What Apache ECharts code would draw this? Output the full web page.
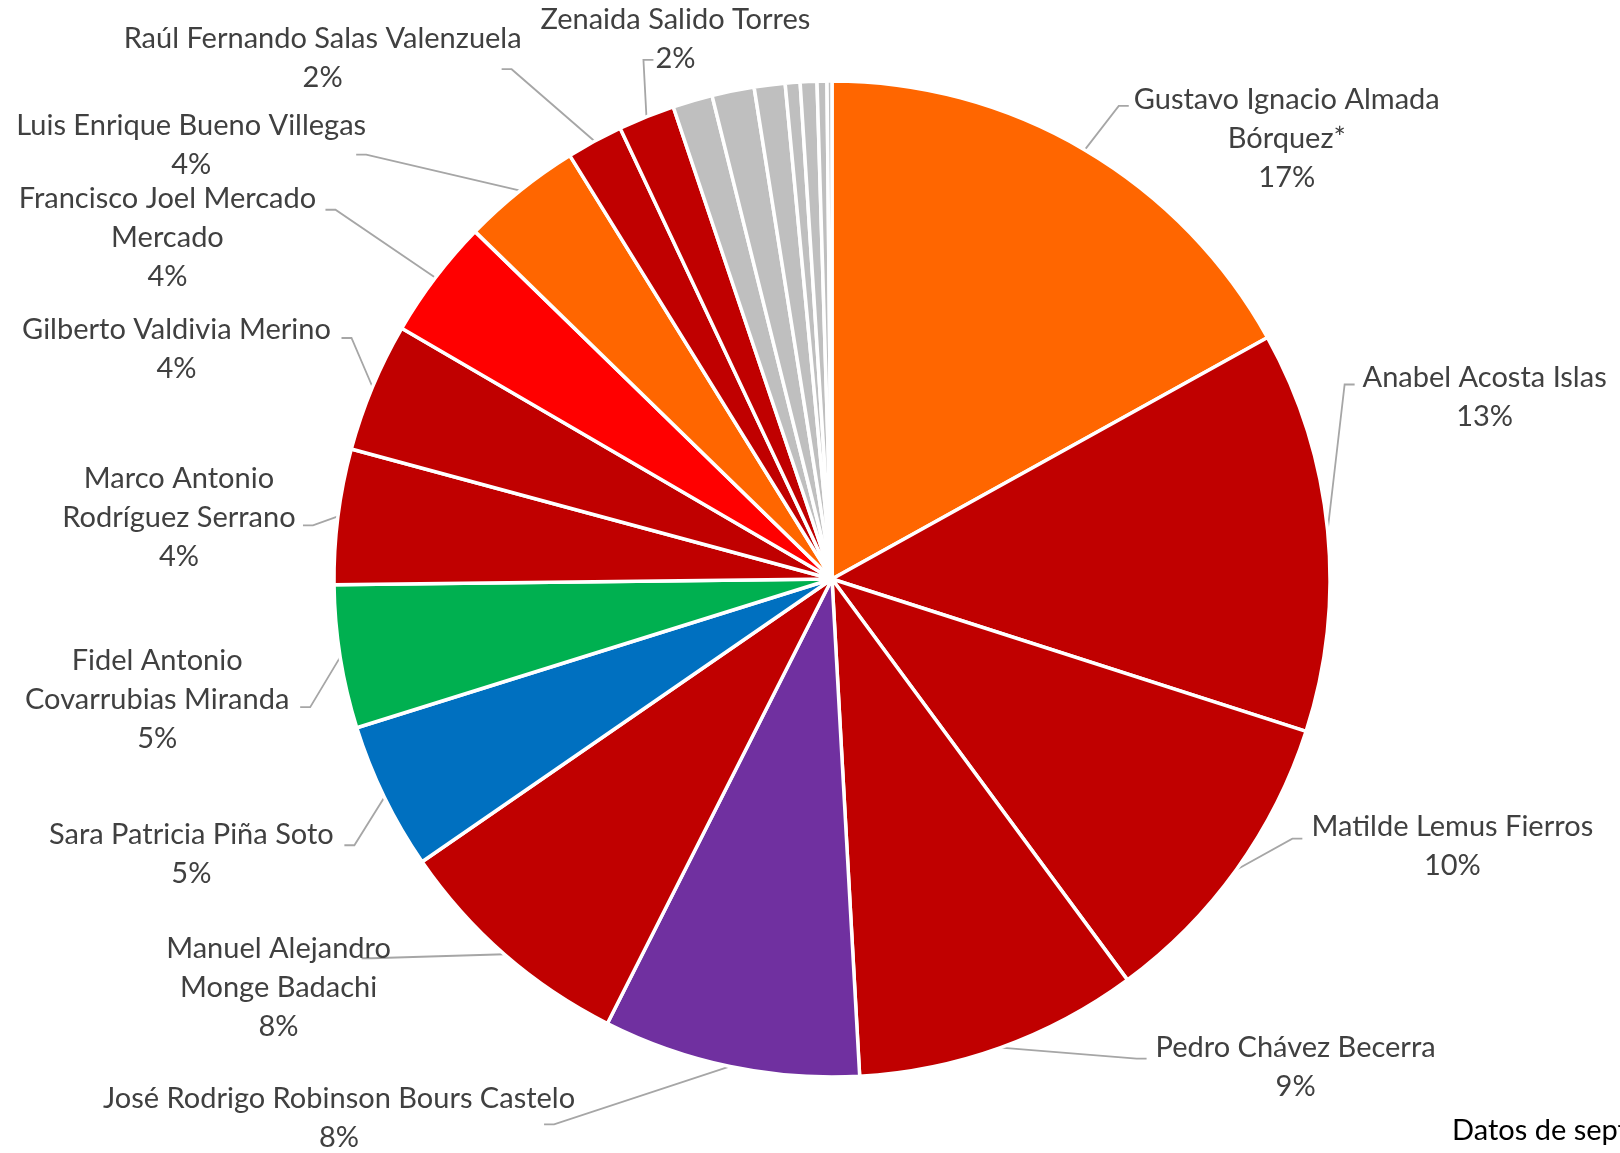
<!DOCTYPE html>
<html>
<head>
<meta charset="utf-8">
<script src="https://cdn.jsdelivr.net/npm/echarts@6/dist/echarts.min.js"></script>
<style>
html,body{margin:0;padding:0;background:#ffffff;}
#chart{width:1620px;height:1153px;}
</style>
</head>
<body>
<div id="chart"></div>
<script>
// ---- data (share of votes, %) ----
const categories = [
  'Gustavo Ignacio Almada Bórquez*',
  'Anabel Acosta Islas',
  'Matilde Lemus Fierros',
  'Pedro Chávez Becerra',
  'José Rodrigo Robinson Bours Castelo',
  'Manuel Alejandro Monge Badachi',
  'Sara Patricia Piña Soto',
  'Fidel Antonio Covarrubias Miranda',
  'Marco Antonio Rodríguez Serrano',
  'Gilberto Valdivia Merino',
  'Francisco Joel Mercado Mercado',
  'Luis Enrique Bueno Villegas',
  'Raúl Fernando Salas Valenzuela',
  'Zenaida Salido Torres',
  'Otro 1', 'Otro 2', 'Otro 3', 'Otro 4', 'Otro 5', 'Otro 6', 'Otro 7'
];
const values = [
  16.94, 13.00, 9.94, 9.22, 8.33, 7.94, 4.78, 4.64, 4.39, 4.19,
  3.89, 3.89, 1.83, 1.83,
  1.29, 1.37, 1.00, 0.48, 0.54, 0.32, 0.16
];
// label text as wrapped in the picture (null = no label)
const labelNames = [
  'Gustavo Ignacio Almada\nBórquez*',
  'Anabel Acosta Islas',
  'Matilde Lemus Fierros',
  'Pedro Chávez Becerra',
  'José Rodrigo Robinson Bours Castelo',
  'Manuel Alejandro\nMonge Badachi',
  'Sara Patricia Piña Soto',
  'Fidel Antonio\nCovarrubias Miranda',
  'Marco Antonio\nRodríguez Serrano',
  'Gilberto Valdivia Merino',
  'Francisco Joel Mercado\nMercado',
  'Luis Enrique Bueno Villegas',
  'Raúl Fernando Salas Valenzuela',
  'Zenaida Salido Torres',
  null, null, null, null, null, null, null
];
const footnote = 'Datos de septiembre';

// ---- styles ----
const ORANGE = '#FF6600', DRED = '#C00000', RED = '#FF0000', GREEN = '#00B050',
      BLUE = '#0070C0', PURPLE = '#7030A0', GREY = '#BFBFBF';
const sliceColors = [
  ORANGE, DRED, DRED, DRED, PURPLE, DRED, BLUE, GREEN, DRED, DRED,
  RED, ORANGE, DRED, DRED,
  GREY, GREY, GREY, GREY, GREY, GREY, GREY
];
// label centre offset from the slice's outer anchor point, and leader end relative to label centre
const labelOffsets = [
  [202, -11], [157, -133], [216, -24], [295, 20], [-391, 52], [-226, 33], [-193, 57],
  [-183, 42], [-159, 1], [-196, -38], [-268, -40], [-329, -46], [-272, -83], [29, -78]
];
const leaderEnds = [
  [-158, -33], [-130, -13], [-150, -7], [-149, -9], [205, 6], [83, -29], [153, -9],
  [143, 8], [124, 8], [165, -11], [158, -28], [165, 10], [179, 11], [-22, 21]
];

const FONT = 'Lato, "Open Sans", "Noto Sans", sans-serif';

const seriesData = categories.map(function (name, i) {
  const item = { name: name, value: values[i], itemStyle: { color: sliceColors[i] } };
  if (!labelNames[i]) {
    item.label = { show: false };
    item.labelLine = { show: false };
  }
  return item;
});

const chart = echarts.init(document.getElementById('chart'), null, { renderer: 'canvas' });
chart.setOption({
  backgroundColor: '#ffffff',
  animation: false,
  series: [{
    type: 'pie',
    center: [832, 579],
    radius: [0, 498],
    startAngle: 90,
    clockwise: true,
    avoidLabelOverlap: false,
    data: seriesData,
    itemStyle: { borderColor: '#ffffff', borderWidth: 3.5 },
    emphasis: { disabled: true },
    label: {
      show: true,
      position: 'outside',
      fontFamily: FONT,
      fontSize: 29,
      lineHeight: 39,
      color: '#404040',
      formatter: function (p) {
        return labelNames[p.dataIndex] + '\n' + Math.round(p.percent) + '%';
      }
    },
    labelLine: {
      show: true,
      length: 10,
      length2: 10,
      smooth: false,
      lineStyle: { color: '#A6A6A6', width: 1.8 }
    },
    labelLayout: function (p) {
      const i = p.dataIndex;
      const off = labelOffsets[i];
      if (!off || !p.labelLinePoints) return {};
      const a = p.labelLinePoints[0];
      const cx = a[0] + off[0], cy = a[1] + off[1];
      const e = leaderEnds[i];
      const end = [cx + e[0], cy + e[1]];
      const bend = [end[0] + (end[0] < a[0] ? 10 : -10), end[1]];
      return {
        x: cx, y: cy, align: 'center', verticalAlign: 'middle',
        labelLinePoints: [[a[0], a[1]], bend, end]
      };
    }
  }],
  graphic: [{
    type: 'text',
    left: 1452,
    top: 1116,
    style: { text: footnote, fill: '#000000', font: '29px ' + FONT }
  }]
});
</script>
</body>
</html>
